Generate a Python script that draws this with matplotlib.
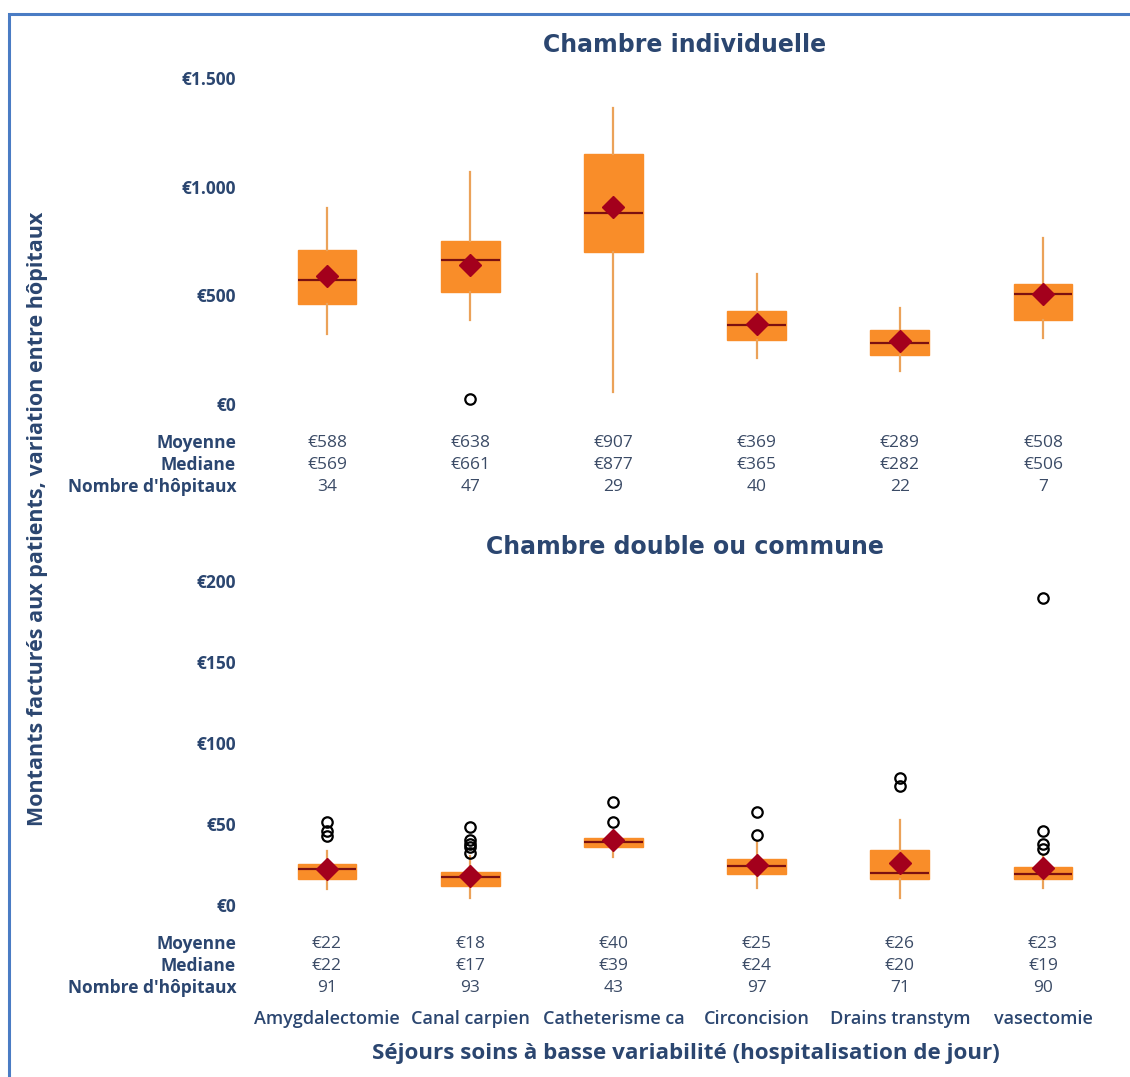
import matplotlib
matplotlib.use("Agg")
import matplotlib.pyplot as plt
from matplotlib.transforms import blended_transform_factory
from matplotlib.patches import Rectangle

# ---- data ----
categories = ["Amygdalectomie", "Canal carpien", "Catheterisme ca",
              "Circoncision", "Drains transtym", "vasectomie"]

# Chambre individuelle
ind_mean = [588, 638, 907, 369, 289, 508]
ind_median = [569, 661, 877, 365, 282, 506]
ind_q1 = [460, 517, 699, 294, 225, 388]
ind_q3 = [708, 750, 1150, 428, 342, 551]
ind_whislo = [322, 386, 55, 213, 152, 302]
ind_whishi = [903, 1067, 1361, 597, 443, 765]
ind_fliers = [[], [23], [], [], [], []]
ind_count = [34, 47, 29, 40, 22, 7]

# Chambre double ou commune
dbl_mean = [22, 18, 40, 25, 26, 23]
dbl_median = [22, 17, 39, 24, 20, 19]
dbl_q1 = [16, 12, 36, 19, 16, 16]
dbl_q3 = [25.5, 20.2, 41.2, 28.4, 34, 23.7]
dbl_whislo = [9.7, 4.5, 29.8, 10.7, 4.5, 10.7]
dbl_whishi = [33.5, 30, 44, 39, 52.5, 30]
dbl_fliers = [[51.5, 45.7, 42.3], [48.3, 40.1, 37.5, 35.6, 32.3], [63.4, 51.4],
              [57.6, 43], [78.2, 73.5], [189.3, 45.9, 37.7, 34.4]]
dbl_count = [91, 93, 43, 97, 71, 90]

ind_ticks = [0, 500, 1000, 1500]
ind_ticklabels = ["€0", "€500", "€1.000", "€1.500"]
dbl_ticks = [0, 50, 100, 150, 200]
dbl_ticklabels = ["€0", "€50", "€100", "€150", "€200"]

row_names = ["Moyenne", "Mediane", "Nombre d'hôpitaux"]

# ---- style ----
NAVY = "#2B4670"
VALUE = "#3B4B66"
BOX = "#F98D29"
WHISK = "#EBA259"
MED = "#7B1010"
MEAN = "#A3001C"
SANS = ["Open Sans", "DejaVu Sans"]

W, H = 1130, 1077
fig = plt.figure(figsize=(W / 100, H / 100), dpi=100)
fig.patch.set_facecolor("white")


def fx(px):
    return px / W


def fy(py):
    return 1 - py / H


# frame around the whole graphic
fig.patches.append(Rectangle((fx(8.5), fy(1200)), 2, fy(13.5) - fy(1200),
                             transform=fig.transFigure, fill=False,
                             edgecolor="#4A7CC4", linewidth=2.2))

L, R = 255.4, 1114.6


def make_panel(top, bottom, ylim, means, medians, q1, q3, lo, hi, fliers,
               counts, ticks, ticklabels, title, title_y, row_ys):
    ax = fig.add_axes([fx(L), fy(bottom), fx(R) - fx(L), fy(top) - fy(bottom)])
    stats = []
    for i in range(len(categories)):
        stats.append(dict(med=medians[i], q1=q1[i], q3=q3[i], whislo=lo[i],
                          whishi=hi[i], fliers=fliers[i], mean=means[i]))
    pos = list(range(1, len(categories) + 1))
    ax.bxp(stats, positions=pos, widths=0.41, patch_artist=True,
           showmeans=True, showcaps=False,
           boxprops=dict(facecolor=BOX, edgecolor=BOX, linewidth=1),
           whiskerprops=dict(color=WHISK, linewidth=1.6),
           medianprops=dict(color=MED, linewidth=1.6),
           meanprops=dict(marker="D", markerfacecolor=MEAN,
                          markeredgecolor=MEAN, markersize=11),
           flierprops=dict(marker="o", markerfacecolor="none",
                           markeredgecolor="black", markersize=7.5,
                           markeredgewidth=1.6))
    ax.set_xlim(0.5, 6.5)
    ax.set_ylim(*ylim)
    for s in ax.spines.values():
        s.set_visible(False)
    ax.set_xticks([])
    ax.set_yticks(ticks)
    ax.set_yticklabels(ticklabels, family=SANS, fontweight="bold",
                       fontsize=12.5, color=NAVY)
    ax.tick_params(axis="y", length=0, pad=14)
    fig.text(fx(685), fy(title_y), title, ha="center", va="center",
             fontsize=17, fontweight="bold", color=NAVY,
             family="DejaVu Sans")

    tr = blended_transform_factory(ax.transData, fig.transFigure)
    rows = [["€%d" % v for v in means],
            ["€%d" % v for v in medians],
            ["%d" % v for v in counts]]
    for name, vals, ry in zip(row_names, rows, row_ys):
        fig.text(fx(236), fy(ry), name, ha="right", va="center",
                 fontsize=12.5, fontweight="bold", color=NAVY, family=SANS)
        for p, v in zip(pos, vals):
            ax.text(p, fy(ry), v, transform=tr, ha="center", va="center",
                    fontsize=12.5, color=VALUE, family=SANS)
    return ax


# value range chosen so that 0 lands at the zero tick row
ax1 = make_panel(60, 420, (-73.6, 1582.5), ind_mean, ind_median, ind_q1,
                 ind_q3, ind_whislo, ind_whishi, ind_fliers, ind_count,
                 ind_ticks, ind_ticklabels, "Chambre individuelle", 45,
                 [443, 465, 487])
ax2 = make_panel(570, 920, (-9.26, 206.8), dbl_mean, dbl_median, dbl_q1,
                 dbl_q3, dbl_whislo, dbl_whishi, dbl_fliers, dbl_count,
                 dbl_ticks, dbl_ticklabels, "Chambre double ou commune", 547,
                 [944, 966, 988])

tr2 = blended_transform_factory(ax2.transData, fig.transFigure)
for i, c in enumerate(categories):
    ax2.text(i + 1, fy(1019), c, transform=tr2, ha="center", va="center",
             fontsize=13, fontweight="semibold", color=NAVY, family=SANS)

fig.text(fx(686), fy(1054), "Séjours soins à basse variabilité (hospitalisation de jour)",
         ha="center", va="center", fontsize=16.1, fontweight="bold",
         color=NAVY, family=SANS)
fig.text(fx(38), fy(519), "Montants facturés aux patients, variation entre hôpitaux",
         ha="center", va="center", rotation=90, fontsize=15.5,
         fontweight="bold", color=NAVY, family=SANS)

fig.savefig("out.png", dpi=100, facecolor="white")
